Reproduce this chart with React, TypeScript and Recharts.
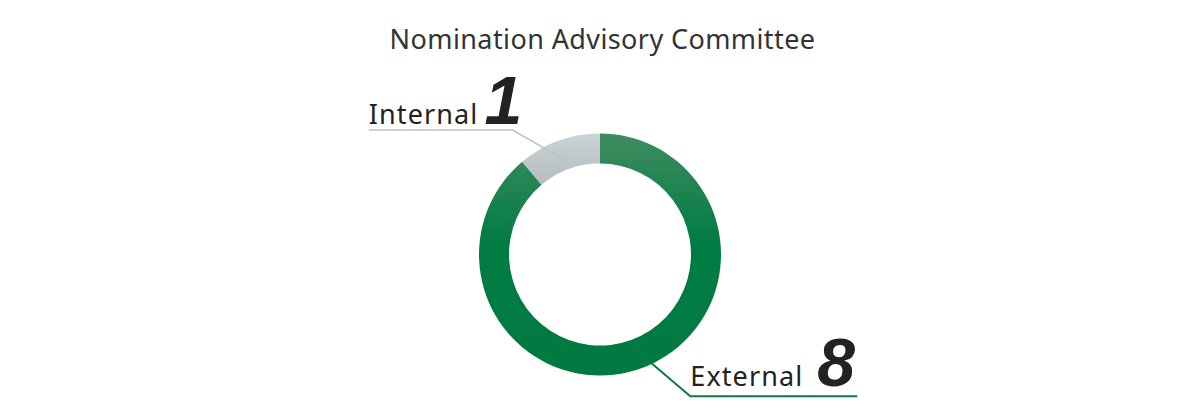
import React from "react";
import { Cell, Pie, PieChart } from "recharts";

const categories = ["External", "Internal"];
const counts = [8, 1];
const title = "Nomination Advisory Committee";

const data = categories.map((name, i) => ({ name, value: counts[i] }));

const fills: Record<string, string> = {
  External: "url(#gradExternal)",
  Internal: "url(#gradInternal)",
};

// leader line geometry: elbow angle shift (deg), elbow radius, horizontal run, colour
const leaders: Record<
  string,
  { shift: number; r: number; run: number; stroke: string; width: number; gap: number }
> = {
  Internal: { shift: 15, r: 152, run: 144, stroke: "#b9c3c5", width: 1.5, gap: 6 },
  External: { shift: 12.5, r: 168, run: 167, stroke: "#0b7a45", width: 2, gap: 10 },
};

const RAD = Math.PI / 180;

function LeaderLabel(props: any) {
  const { cx, cy, midAngle, name, value } = props;
  const cfg = leaders[name];
  if (!cfg) return null;
  const sx = cx + 100 * Math.cos(-midAngle * RAD);
  const sy = cy + 100 * Math.sin(-midAngle * RAD);
  const a = midAngle + cfg.shift;
  const ex = cx + cfg.r * Math.cos(-a * RAD);
  const ey = cy + cfg.r * Math.sin(-a * RAD);
  const left = ex < cx;
  const hx = left ? ex - cfg.run : ex + cfg.run;
  const tx = Math.min(ex, hx);
  return (
    <g>
      <polyline
        points={`${sx},${sy} ${ex},${ey} ${hx},${ey}`}
        fill="none"
        stroke={cfg.stroke}
        strokeWidth={cfg.width}
      />
      <text x={tx} y={ey - cfg.gap} fill="#222" textAnchor="start">
        <tspan fontFamily="'Noto Sans', sans-serif" fontSize={27} letterSpacing={1.1}>
          {name}
        </tspan>
        <tspan
          dx={name === "Internal" ? 6 : 14}
          fontFamily="'Liberation Sans', Arial, sans-serif"
          fontSize={68}
          fontWeight="bold"
          fontStyle="italic"
        >
          {value}
        </tspan>
      </text>
    </g>
  );
}

export default function App() {
  return (
    <div
      style={{
        position: "absolute",
        left: 0,
        top: 0,
        width: 1200,
        height: 420,
        background: "#fff",
      }}
    >
      <svg width={0} height={0} style={{ position: "absolute" }}>
        <defs>
          <linearGradient id="gradExternal" x1="0" y1="0" x2="0" y2="1">
            <stop offset="0%" stopColor="#3f8c60" />
            <stop offset="45%" stopColor="#007c42" />
            <stop offset="100%" stopColor="#007a40" />
          </linearGradient>
          <linearGradient id="gradInternal" x1="0" y1="0" x2="0" y2="1">
            <stop offset="0%" stopColor="#cbd3d5" />
            <stop offset="100%" stopColor="#b3bcbe" />
          </linearGradient>
        </defs>
      </svg>
      <div
        style={{
          position: "absolute",
          left: 0,
          top: 21,
          width: 1205,
          textAlign: "center",
          fontFamily: "'Noto Sans', sans-serif",
          fontSize: 27,
          letterSpacing: 0.4,
          lineHeight: "36px",
          color: "#333",
        }}
      >
        {title}
      </div>
      <PieChart width={1200} height={420} margin={{ top: 0, right: 0, bottom: 0, left: 0 }}>
        <Pie
          data={data}
          dataKey="value"
          nameKey="name"
          cx={600}
          cy={254.5}
          innerRadius={91}
          outerRadius={121}
          startAngle={90}
          endAngle={-270}
          stroke="none"
          label={LeaderLabel}
          labelLine={false}
          isAnimationActive={false}
        >
          {data.map((d) => (
            <Cell key={d.name} fill={fills[d.name]} />
          ))}
        </Pie>
      </PieChart>
    </div>
  );
}
